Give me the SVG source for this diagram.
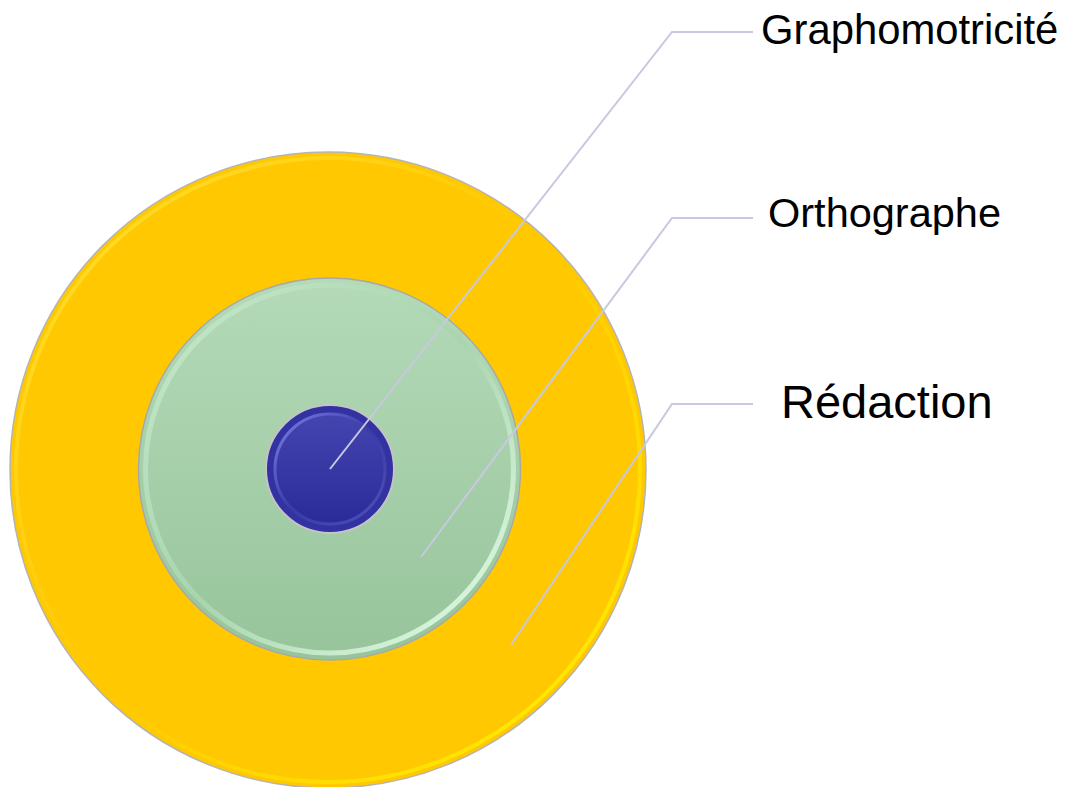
<svg xmlns="http://www.w3.org/2000/svg" width="1067" height="787" viewBox="0 0 1067 787">
  <style>
    .lbl { font-family: "Liberation Sans", Arial, sans-serif; fill: #000000; }
    .conn { fill: none; stroke: #C8C8E0; stroke-width: 2; stroke-linejoin: miter; }
  </style>
  <defs>
    <linearGradient id="yRing" x1="0" y1="0" x2="1" y2="1">
      <stop offset="0" stop-color="#FFE030"/>
      <stop offset="0.5" stop-color="#FFC800"/>
      <stop offset="1" stop-color="#FFF200"/>
    </linearGradient>
    <linearGradient id="gFill" x1="0" y1="0" x2="0" y2="1">
      <stop offset="0" stop-color="#B4DAB8"/>
      <stop offset="1" stop-color="#97C49B"/>
    </linearGradient>
    <linearGradient id="gRing" x1="0" y1="0" x2="1" y2="1">
      <stop offset="0" stop-color="#C8EACC"/>
      <stop offset="0.5" stop-color="#A8D4AE"/>
      <stop offset="1" stop-color="#E6FFEA"/>
    </linearGradient>
    <linearGradient id="bFill" x1="0" y1="0" x2="0" y2="1">
      <stop offset="0" stop-color="#4545B0"/>
      <stop offset="1" stop-color="#2A2A9A"/>
    </linearGradient>
    <linearGradient id="bRing" x1="0" y1="0" x2="1" y2="1">
      <stop offset="0" stop-color="#8080E8"/>
      <stop offset="0.5" stop-color="#3A3AA8"/>
      <stop offset="1" stop-color="#5050B8"/>
    </linearGradient>
  </defs>

  <g id="node-redaction">
    <circle cx="328" cy="470" r="318" fill="#FFC800" stroke="#B4B4B4" stroke-width="1.5"/>
    <circle cx="328" cy="470" r="312" fill="none" stroke="url(#yRing)" stroke-width="4"/>
    <text class="lbl" x="781" y="418" font-size="47">Rédaction</text>
  </g>

  <g id="node-orthographe">
    <circle cx="329.5" cy="469" r="191" fill="url(#gFill)" stroke="#A8A8A8" stroke-width="1.5"/>
    <circle cx="329.5" cy="469" r="184" fill="none" stroke="url(#gRing)" stroke-width="5"/>
    <text class="lbl" x="768" y="227" font-size="41.5">Orthographe</text>
  </g>

  <g id="node-graphomotricite">
    <circle cx="330" cy="469" r="64" fill="#3232A2" stroke="#C4C4C4" stroke-width="2"/>
    <circle cx="330" cy="469" r="55" fill="url(#bFill)" stroke="url(#bRing)" stroke-width="3"/>
    <text class="lbl" x="761" y="44" font-size="41.8">Graphomotricité</text>
  </g>

  <g id="connectors">
    <polyline class="conn" points="330,469 672,32 753,32"/>
    <polyline class="conn" points="421,557 672,218 753,218"/>
    <polyline class="conn" points="511,645 672,404 753,404"/>
  </g>
</svg>
